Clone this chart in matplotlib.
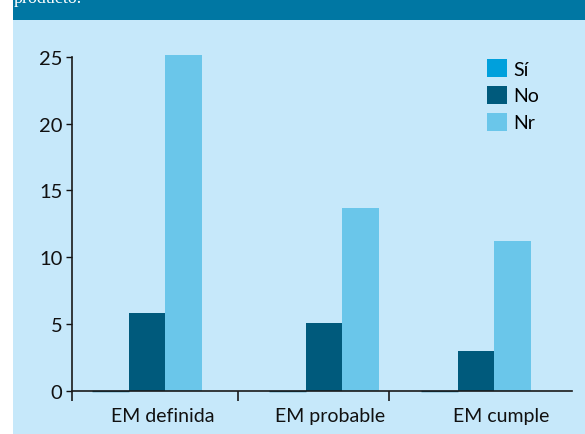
import numpy as np
import matplotlib
matplotlib.use('Agg')
import matplotlib.pyplot as plt
from matplotlib.patches import Rectangle

# data
categories = ['EM definida', 'EM probable', 'EM cumple']
series_names = ['Sí', 'No', 'Nr']
si = [0.0, 0.0, 0.0]
no = [5.8, 5.1, 3.0]
nr = [25.1, 13.7, 11.2]
yticks = [0, 5, 10, 15, 20, 25]

# layout (x in pixel-like units from the y axis)
group_left = [20.0, 197.0, 349.0]
bar_w = 36.5
sep_ticks = [0.0, 166.3, 317.3]
label_pos = [90.5, 258.0, 429.0]

c_si = '#00a0dc'
c_no = '#005a7c'
c_nr = '#6ac6ea'
c_bg = '#c6e8fa'
c_band = '#0077a3'

plt.rcParams['font.family'] = ['Lato', 'DejaVu Sans']

W, H = 585.0, 435.0
fig = plt.figure(figsize = (5.85, 4.35), dpi = 100)
fig.patch.set_facecolor('white')

# background panels
fig.patches.append(Rectangle((13 / W, 0), 1, (H - 21) / H, transform = fig.transFigure,
                             facecolor = c_bg, edgecolor = 'none', zorder = 0))
fig.patches.append(Rectangle((13 / W, (H - 21) / H), 1, 21 / H, transform = fig.transFigure,
                             facecolor = c_band, edgecolor = 'none', zorder = 0))
fig.text(14 / W, 1 - 3 / H, 'producto.', color = 'white', family = 'Liberation Serif',
         fontsize = 13, va = 'baseline', ha = 'left')

ax = fig.add_axes([72 / W, (H - 391.7) / H, 500 / W, (391.7 - 57.7) / H])
ax.set_facecolor('none')
ax.set_zorder(5)

x0 = np.array(group_left)
ax.bar(x0, si, bar_w, align = 'edge', color = c_si, edgecolor = c_no, linewidth = 1.0,
       clip_on = False)
ax.bar(x0 + bar_w, no, bar_w, align = 'edge', color = c_no, linewidth = 0, clip_on = False)
ax.bar(x0 + 2 * bar_w, nr, bar_w, align = 'edge', color = c_nr, linewidth = 0, clip_on = False)

ax.set_xlim(0, 500)
ax.set_ylim(0, 25)

for s in ['top', 'right']:
    ax.spines[s].set_visible(False)
for s in ['left', 'bottom']:
    ax.spines[s].set_linewidth(1.2)
    ax.spines[s].set_color('#1a1a1a')

ax.set_yticks(yticks)
ax.set_yticklabels([str(v) for v in yticks])
ax.tick_params(axis = 'y', direction = 'out', length = 4.3, width = 1.0, pad = 2.5,
               labelsize = 14.5, colors = '#111111')

ax.set_xticks(sep_ticks)
ax.set_xticklabels([])
ax.set_xticks(label_pos, minor = True)
ax.set_xticklabels(categories, minor = True)
ax.tick_params(axis = 'x', which = 'major', direction = 'out', length = 7.2, width = 1.2,
               colors = '#1a1a1a')
ax.tick_params(axis = 'x', which = 'minor', length = 0, pad = 12, labelsize = 14,
               labelcolor = '#111111')

handles = [Rectangle((0, 0), 1, 1, facecolor = c, edgecolor = 'none')
           for c in [c_si, c_no, c_nr]]
lg = ax.legend(handles, series_names, loc = 'upper left',
               bbox_to_anchor = (487 / W, 1 - 60 / H),
               bbox_transform = fig.transFigure, frameon = False, fontsize = 14,
               handlelength = 1.05, handleheight = 1.05, handletextpad = 0.3,
               labelspacing = 0.42, borderpad = 0, borderaxespad = 0)

plt.savefig('out.png', dpi = 100)
